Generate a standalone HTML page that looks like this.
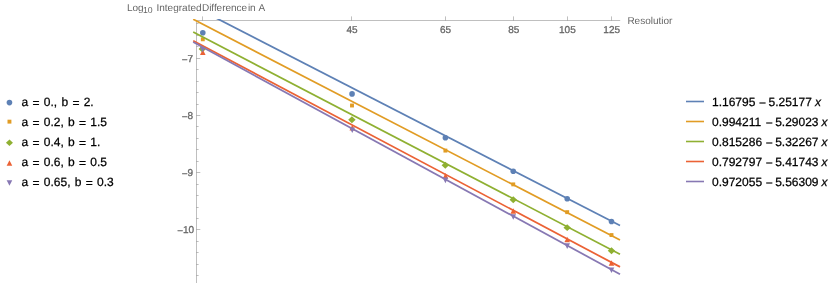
<!DOCTYPE html>
<html><head><title>Log10 Integrated Difference in A vs Resolution</title><meta charset="utf-8"><style>html,body{margin:0;padding:0;background:#fff}body{width:830px;height:283px;position:relative;overflow:hidden}</style></head><body><svg width="830" height="283" viewBox="0 0 830 283" style="display:block;position:absolute;left:0;top:0;will-change:transform" font-family="Liberation Sans, sans-serif" text-rendering="geometricPrecision">
<defs><clipPath id="pc"><rect x="190" y="19.0" width="432" height="270"/></clipPath><clipPath id="tc"><rect x="120" y="0" width="552.3" height="283"/></clipPath></defs>
<g stroke="#666" stroke-width="0.42" fill="none"><path d="M196 20.5H620.2 M196.5 20V283" /><path d="M202.5 16.4V20.5"/><path d="M351.5 16.4V20.5"/><path d="M445.5 16.4V20.5"/><path d="M513.5 16.4V20.5"/><path d="M567.5 16.4V20.5"/><path d="M611.5 16.4V20.5"/><path d="M196.5 23.5H198.6"/><path d="M196.5 35.5H198.6"/><path d="M196.5 46.5H198.6"/><path d="M196.5 58.5H200.3"/><path d="M196.5 69.5H198.6"/><path d="M196.5 81.5H198.6"/><path d="M196.5 92.5H198.6"/><path d="M196.5 104.5H198.6"/><path d="M196.5 115.5H200.3"/><path d="M196.5 126.5H198.6"/><path d="M196.5 138.5H198.6"/><path d="M196.5 149.5H198.6"/><path d="M196.5 161.5H198.6"/><path d="M196.5 172.5H200.3"/><path d="M196.5 184.5H198.6"/><path d="M196.5 195.5H198.6"/><path d="M196.5 207.5H198.6"/><path d="M196.5 218.5H198.6"/><path d="M196.5 229.5H200.3"/><path d="M196.5 241.5H198.6"/><path d="M196.5 252.5H198.6"/><path d="M196.5 264.5H198.6"/><path d="M196.5 275.5H198.6"/></g>
<g clip-path="url(#pc)">
<circle cx="202.80" cy="32.70" r="2.8" fill="#5E81B5"/>
<circle cx="352.05" cy="93.90" r="2.8" fill="#5E81B5"/>
<circle cx="445.40" cy="137.80" r="2.8" fill="#5E81B5"/>
<circle cx="513.26" cy="171.19" r="2.8" fill="#5E81B5"/>
<circle cx="567.20" cy="198.76" r="2.8" fill="#5E81B5"/>
<circle cx="611.49" cy="221.51" r="2.8" fill="#5E81B5"/>
<rect x="200.85" y="37.35" width="3.9" height="3.9" fill="#E19C24"/>
<rect x="350.05" y="103.55" width="3.9" height="3.9" fill="#E19C24"/>
<rect x="443.45" y="148.65" width="3.9" height="3.9" fill="#E19C24"/>
<rect x="511.31" y="182.43" width="3.9" height="3.9" fill="#E19C24"/>
<rect x="565.25" y="210.20" width="3.9" height="3.9" fill="#E19C24"/>
<rect x="609.54" y="233.11" width="3.9" height="3.9" fill="#E19C24"/>
<path d="M198.59 49.00L202.30 45.55L206.01 49.00L202.30 52.45Z" fill="#8FB032"/>
<path d="M348.19 119.80L351.90 116.35L355.61 119.80L351.90 123.25Z" fill="#8FB032"/>
<path d="M441.59 165.20L445.30 161.75L449.01 165.20L445.30 168.64Z" fill="#8FB032"/>
<path d="M509.55 199.69L513.26 196.25L516.97 199.69L513.26 203.14Z" fill="#8FB032"/>
<path d="M563.49 227.63L567.20 224.19L570.91 227.63L567.20 231.08Z" fill="#8FB032"/>
<path d="M607.78 250.68L611.49 247.24L615.20 250.68L611.49 254.13Z" fill="#8FB032"/>
<path d="M200.00 55.05L205.60 55.05L202.80 49.45Z" fill="#EB6235"/>
<path d="M349.50 130.40L355.10 130.40L352.30 124.80Z" fill="#EB6235"/>
<path d="M442.70 178.70L448.30 178.70L445.50 173.10Z" fill="#EB6235"/>
<path d="M510.46 213.83L516.06 213.83L513.26 208.23Z" fill="#EB6235"/>
<path d="M564.40 242.27L570.00 242.27L567.20 236.67Z" fill="#EB6235"/>
<path d="M608.69 265.74L614.29 265.74L611.49 260.14Z" fill="#EB6235"/>
<path d="M199.80 46.75L205.40 46.75L202.60 52.35Z" fill="#8778B3"/>
<path d="M349.45 127.50L355.05 127.50L352.25 133.10Z" fill="#8778B3"/>
<path d="M442.60 177.60L448.20 177.60L445.40 183.20Z" fill="#8778B3"/>
<path d="M510.46 214.16L516.06 214.16L513.26 219.76Z" fill="#8778B3"/>
<path d="M564.40 243.36L570.00 243.36L567.20 248.96Z" fill="#8778B3"/>
<path d="M608.69 267.45L614.29 267.45L611.49 273.05Z" fill="#8778B3"/>
<path d="M193.2 6.26L620.0 225.43" stroke="#5E81B5" stroke-width="1.75" fill="none"/>
<path d="M193.2 19.24L620.0 240.01" stroke="#E19C24" stroke-width="1.75" fill="none"/>
<path d="M193.2 32.04L620.0 254.16" stroke="#8FB032" stroke-width="1.75" fill="none"/>
<path d="M193.2 40.82L620.0 266.89" stroke="#EB6235" stroke-width="1.75" fill="none"/>
<path d="M193.2 42.08L620.0 274.23" stroke="#8778B3" stroke-width="1.75" fill="none"/>
</g>
<text x="352.13" y="33.10" font-size="10" letter-spacing="0.0" text-anchor="middle" fill="#666" stroke="#666" stroke-width="0.3">45</text>
<text x="445.56" y="33.10" font-size="10" letter-spacing="0.0" text-anchor="middle" fill="#666" stroke="#666" stroke-width="0.3">65</text>
<text x="513.71" y="33.10" font-size="10" letter-spacing="0.0" text-anchor="middle" fill="#666" stroke="#666" stroke-width="0.3">85</text>
<text x="567.40" y="33.10" font-size="10" letter-spacing="0.0" text-anchor="middle" fill="#666" stroke="#666" stroke-width="0.3">105</text>
<text x="611.69" y="33.10" font-size="10" letter-spacing="0.0" text-anchor="middle" fill="#666" stroke="#666" stroke-width="0.3">125</text>
<text x="193.15" y="62.00" font-size="10" letter-spacing="0.0" text-anchor="end" fill="#666" stroke="#666" stroke-width="0.3"><tspan dy="0.9">−</tspan><tspan dy="-0.9">7</tspan></text>
<text x="193.15" y="119.00" font-size="10" letter-spacing="0.0" text-anchor="end" fill="#666" stroke="#666" stroke-width="0.3"><tspan dy="0.9">−</tspan><tspan dy="-0.9">8</tspan></text>
<text x="193.15" y="176.00" font-size="10" letter-spacing="0.0" text-anchor="end" fill="#666" stroke="#666" stroke-width="0.3"><tspan dy="0.9">−</tspan><tspan dy="-0.9">9</tspan></text>
<text x="194.15" y="233.00" font-size="10" letter-spacing="0.0" text-anchor="end" fill="#666" stroke="#666" stroke-width="0.3"><tspan dy="0.9">−</tspan><tspan dy="-0.9">10</tspan></text>
<g clip-path="url(#tc)" fill="#666" font-size="10" >
<text x="127.00" y="11.00" font-size="10" letter-spacing="0.0" text-anchor="start" >Log</text><text x="142.90" y="13.00" font-size="8.7" letter-spacing="0.0" text-anchor="start" >10</text>
<text x="156.50" y="11.00" font-size="10" letter-spacing="0.0" text-anchor="start" >Integrated</text><text x="202.00" y="11.00" font-size="10" letter-spacing="-0.05" text-anchor="start" >Difference</text><text x="247.90" y="11.00" font-size="10" letter-spacing="0.0" text-anchor="start" >in</text><text x="258.40" y="11.00" font-size="10" letter-spacing="0.0" text-anchor="start" >A</text>
<text x="627.40" y="23.60" font-size="10" letter-spacing="0.0" text-anchor="start" >Resolution</text>
</g>
<text x="21.5" y="106" font-size="12" fill="#000" stroke="#000" stroke-width="0.25" word-spacing="0.95">a <tspan dy="1">=</tspan><tspan dy="-1"> </tspan>0., b <tspan dy="1">=</tspan><tspan dy="-1"> </tspan>2.</text>
<circle cx="9.45" cy="102.60" r="2.8" fill="#5E81B5"/>
<text x="21.5" y="126" font-size="12" fill="#000" stroke="#000" stroke-width="0.25" word-spacing="0.95">a <tspan dy="1">=</tspan><tspan dy="-1"> </tspan>0.2, b <tspan dy="1">=</tspan><tspan dy="-1"> </tspan>1.5</text>
<rect x="7.50" y="119.70" width="3.9" height="3.9" fill="#E19C24"/>
<text x="21.5" y="146" font-size="12" fill="#000" stroke="#000" stroke-width="0.25" word-spacing="0.95">a <tspan dy="1">=</tspan><tspan dy="-1"> </tspan>0.4, b <tspan dy="1">=</tspan><tspan dy="-1"> </tspan>1.</text>
<path d="M5.95 142.85L9.45 139.60L12.95 142.85L9.45 146.10Z" fill="#8FB032"/>
<text x="21.5" y="166" font-size="12" fill="#000" stroke="#000" stroke-width="0.25" word-spacing="0.95">a <tspan dy="1">=</tspan><tspan dy="-1"> </tspan>0.6, b <tspan dy="1">=</tspan><tspan dy="-1"> </tspan>0.5</text>
<path d="M6.65 165.75L12.25 165.75L9.45 160.15Z" fill="#EB6235"/>
<text x="21.5" y="186" font-size="12" fill="#000" stroke="#000" stroke-width="0.25" word-spacing="0.95">a <tspan dy="1">=</tspan><tspan dy="-1"> </tspan>0.65, b <tspan dy="1">=</tspan><tspan dy="-1"> </tspan>0.3</text>
<path d="M6.65 180.25L12.25 180.25L9.45 185.85Z" fill="#8778B3"/>
<path d="M686 101.50H704" stroke="#5E81B5" stroke-width="1.6"/>
<text y="106.00" font-size="12" fill="#000" stroke="#000" stroke-width="0.25"><tspan x="712">1.16795</tspan><tspan x="759.07" dy="1">−</tspan><tspan x="768.47" dy="-1">5.25177</tspan><tspan x="814.94" font-style="italic">x</tspan></text>
<path d="M686 121.50H704" stroke="#E19C24" stroke-width="1.6"/>
<text y="126.00" font-size="12" fill="#000" stroke="#000" stroke-width="0.25"><tspan x="712">0.994211</tspan><tspan x="765.74" dy="1">−</tspan><tspan x="775.14" dy="-1">5.29023</tspan><tspan x="821.61" font-style="italic">x</tspan></text>
<path d="M686 141.50H704" stroke="#8FB032" stroke-width="1.6"/>
<text y="146.00" font-size="12" fill="#000" stroke="#000" stroke-width="0.25"><tspan x="712">0.815286</tspan><tspan x="765.74" dy="1">−</tspan><tspan x="775.14" dy="-1">5.32267</tspan><tspan x="821.61" font-style="italic">x</tspan></text>
<path d="M686 161.50H704" stroke="#EB6235" stroke-width="1.6"/>
<text y="166.00" font-size="12" fill="#000" stroke="#000" stroke-width="0.25"><tspan x="712">0.792797</tspan><tspan x="765.74" dy="1">−</tspan><tspan x="775.14" dy="-1">5.41743</tspan><tspan x="821.61" font-style="italic">x</tspan></text>
<path d="M686 181.50H704" stroke="#8778B3" stroke-width="1.6"/>
<text y="186.00" font-size="12" fill="#000" stroke="#000" stroke-width="0.25"><tspan x="712">0.972055</tspan><tspan x="765.74" dy="1">−</tspan><tspan x="775.14" dy="-1">5.56309</tspan><tspan x="821.61" font-style="italic">x</tspan></text>
</svg></body></html>
